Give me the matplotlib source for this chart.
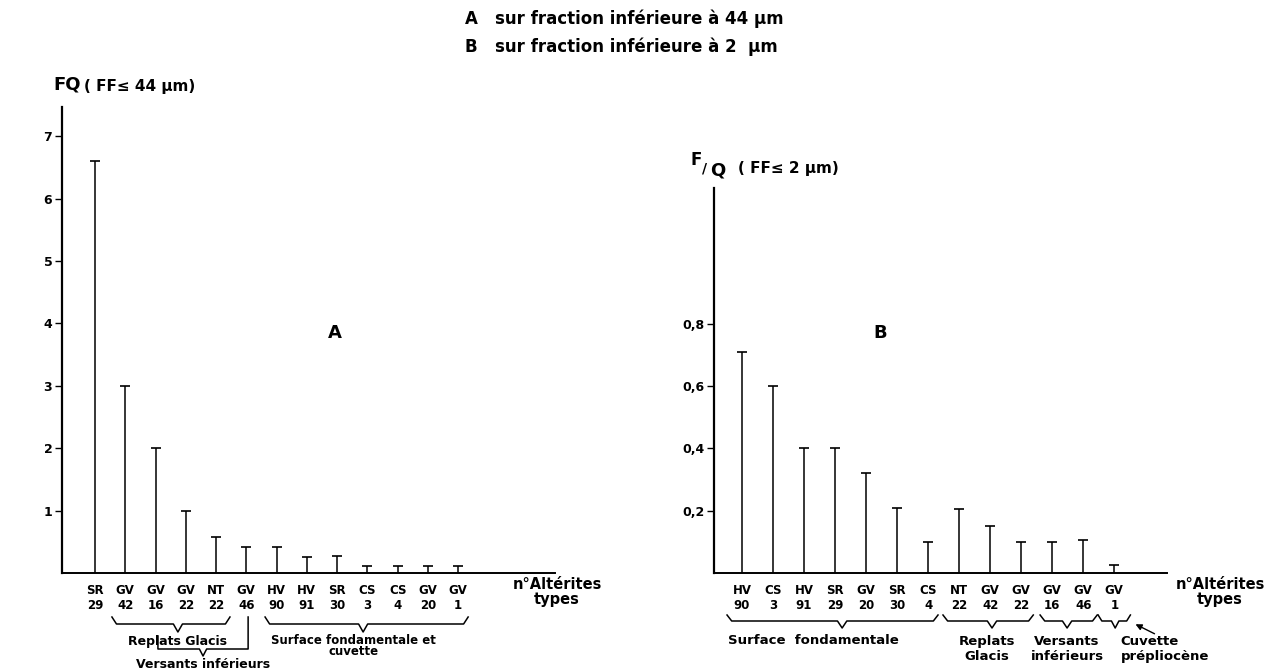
import matplotlib
matplotlib.use("Agg")

import numpy as np
import matplotlib.pyplot as plt

# -------------------------------
# Data
# -------------------------------
a_types = ["SR", "GV", "GV", "GV", "NT", "GV", "HV", "HV", "SR", "CS", "CS", "GV", "GV"]
a_nums = ["29", "42", "16", "22", "22", "46", "90", "91", "30", "3", "4", "20", "1"]
a_vals = [6.6, 3.0, 2.0, 1.0, 0.58, 0.42, 0.42, 0.26, 0.27, 0.12, 0.12, 0.12, 0.11]

b_types = ["HV", "CS", "HV", "SR", "GV", "SR", "CS", "NT", "GV", "GV", "GV", "GV", "GV"]
b_nums = ["90", "3", "91", "29", "20", "30", "4", "22", "42", "22", "16", "46", "1"]
b_vals = [0.71, 0.60, 0.40, 0.40, 0.32, 0.21, 0.10, 0.205, 0.15, 0.10, 0.10, 0.105, 0.025]

a_yticks = [1, 2, 3, 4, 5, 6, 7]
b_yticks = [0.2, 0.4, 0.6, 0.8]
b_yticklabels = ["0,2", "0,4", "0,6", "0,8"]

W, H = 1269, 669
BASE = 573  # baseline, pixels from top
plt.rcParams["font.family"] = ["DejaVu Sans"]
plt.rcParams["font.weight"] = "bold"

fig = plt.figure(figsize=(W / 100, H / 100), dpi=100)


def add_axes_px(x0, x1, ytop, ybot):
    return fig.add_axes([x0 / W, 1 - ybot / H, (x1 - x0) / W, (ybot - ytop) / H])


def ftext(x, y, s, **kw):
    fig.text(x / W, 1 - y / H, s, **kw)


def draw_panel(ax, vals, types, nums, xlim, ylim, yticks, ylabels):
    x = np.arange(len(vals))
    ax.vlines(x, 0, vals, color="black", lw=1.1)
    ax.plot(x, vals, ls="none", marker="_", ms=7, mew=1.2, color="black")
    ax.set_xlim(*xlim)
    ax.set_ylim(*ylim)
    for s in ["top", "right"]:
        ax.spines[s].set_visible(False)
    ax.spines["left"].set_linewidth(1.6)
    ax.spines["bottom"].set_linewidth(1.4)
    ax.set_xticks(x, [f"{t}\n{n}" for t, n in zip(types, nums)])
    ax.tick_params(axis="x", length=0, pad=8, labelsize=8.5)
    ax.set_yticks(yticks, ylabels)
    ax.tick_params(axis="y", length=5, width=1, labelsize=9, pad=2)
    for lab in ax.get_xticklabels():
        lab.set_linespacing(1.2)


def ypos(ax, ypx):
    h = ax.get_position().height * H
    return (BASE - ypx) / h


def brace(ax, x0, x1, xc, ytop, ymid, ybot, hook=0.15):
    xs = [x0, x0 + hook, xc - hook, xc, xc + hook, x1 - hook, x1]
    ys = [ytop, ymid, ymid, ybot, ymid, ymid, ytop]
    ax.plot(xs, [ypos(ax, y) for y in ys], transform=ax.get_xaxis_transform(),
            color="black", lw=1.1, clip_on=False)


def atext(ax, x, ypx, s, size=8.5, **kw):
    ax.text(x, ypos(ax, ypx), s, transform=ax.get_xaxis_transform(),
            ha="center", va="center", fontsize=size, fontweight="bold", **kw)


# -------------------------------
# Panel A
# -------------------------------
axA = add_axes_px(62, 555, 107, BASE)
draw_panel(axA, a_vals, a_types, a_nums, (-1.09, 15.2), (0, 7.47),
           a_yticks, [str(v) for v in a_yticks])

brace(axA, 0.56, 4.46, 2.74, 617, 624, 632)
atext(axA, 2.74, 642, "Replats Glacis", size=9)
pts = [(2.08, 636), (2.08, 649), (3.45, 649), (3.57, 656), (3.69, 649), (5.06, 649), (5.06, 617)]
axA.plot([p[0] for p in pts], [ypos(axA, p[1]) for p in pts],
         transform=axA.get_xaxis_transform(), color="black", lw=1.1, clip_on=False)
atext(axA, 3.57, 664, "Versants inférieurs", size=9)
brace(axA, 5.62, 12.33, 8.86, 617, 624, 632)
atext(axA, 8.53, 646, "Surface fondamentale et\ncuvette", size=8.5, linespacing=0.85)

# -------------------------------
# Panel B
# -------------------------------
axB = add_axes_px(714, 1167, 188, BASE)
draw_panel(axB, b_vals, b_types, b_nums, (-0.9, 13.7), (0, 1.236),
           b_yticks, b_yticklabels)

brace(axB, -0.48, 6.32, 3.23, 615, 621, 628)
atext(axB, 2.29, 640, "Surface  fondamentale", size=9.5)
brace(axB, 6.48, 9.39, 8.06, 615, 621, 628)
atext(axB, 7.9, 649, "Replats\nGlacis", size=9.5, linespacing=1.25)
brace(axB, 9.61, 11.45, 10.48, 615, 621, 628)
atext(axB, 10.48, 649, "Versants\ninférieurs", size=9.5, linespacing=1.25)
brace(axB, 11.48, 12.52, 12.03, 615, 621, 628, hook=0.12)
axB.text(12.2, ypos(axB, 649), "Cuvette\nprépliocène", transform=axB.get_xaxis_transform(),
         ha="left", va="center", fontsize=9.5, fontweight="bold", linespacing=1.25)
fig.add_artist(matplotlib.patches.FancyArrowPatch(
    (1157 / W, 1 - 635 / H), (1133 / W, 1 - 623 / H), transform=fig.transFigure,
    arrowstyle="-|>", mutation_scale=9, color="black", lw=1))

# -------------------------------
# Texts
# -------------------------------
ftext(465, 19, "A", fontsize=12, fontweight="bold", va="center")
ftext(495, 19, "sur fraction inférieure à 44 µm", fontsize=12, fontweight="bold", va="center")
ftext(465, 47, "B", fontsize=12, fontweight="bold", va="center")
ftext(495, 47, "sur fraction inférieure à 2  µm", fontsize=12, fontweight="bold", va="center")

ftext(53, 85, "FQ", fontsize=13, fontweight="bold", va="center")
ftext(84, 86, "( FF≤ 44 µm)", fontsize=11, fontweight="bold", va="center")
ftext(690, 160, "F", fontsize=12, fontweight="bold", va="center")
ftext(702, 169, "/", fontsize=10, fontweight="bold", va="center")
ftext(710, 170, "Q", fontsize=13, fontweight="bold", va="center")
ftext(738, 168, "( FF≤ 2 µm)", fontsize=11, fontweight="bold", va="center")

ftext(335, 333, "A", fontsize=13, fontweight="bold", ha="center", va="center")
ftext(880, 333, "B", fontsize=13, fontweight="bold", ha="center", va="center")

for xc in (557, 1220):
    ftext(xc, 592, "n°Altérites\ntypes", fontsize=10.5, fontweight="bold",
          ha="center", va="center", linespacing=1.0)

fig.savefig("out.png", dpi=100)
